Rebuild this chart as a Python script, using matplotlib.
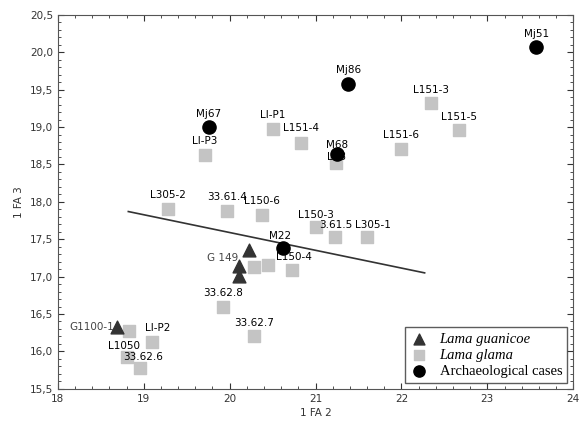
import matplotlib
matplotlib.use('Agg')
import matplotlib.pyplot as plt
from matplotlib.ticker import MultipleLocator, FuncFormatter

# Lama guanicoe
guan_labels = ['G1100-1', 'G 149', '', '']
guan_x = [18.69, 20.23, 20.11, 20.11]
guan_y = [16.33, 17.36, 17.14, 17.01]

# Lama glama
glama_labels = ['L305-2', '33.61.4', 'L150-6', 'LI-P3', 'LI-P1', 'L151-4', 'L68',
                'L151-6', 'L151-3', 'L151-5', 'L150-3', '3.61.5', 'L305-1', 'L150-4',
                '', '', '33.62.8', '33.62.7', '', 'LI-P2', 'L1050', '33.62.6']
glama_x = [19.28, 19.97, 20.38, 19.71, 20.50, 20.83, 21.24,
           22.00, 22.34, 22.67, 21.00, 21.23, 21.60, 20.72,
           20.28, 20.45, 19.92, 20.28, 18.83, 19.10, 18.80, 18.96]
glama_y = [17.91, 17.88, 17.83, 18.63, 18.98, 18.79, 18.52,
           18.71, 19.32, 18.96, 17.67, 17.53, 17.53, 17.09,
           17.13, 17.16, 16.60, 16.20, 16.27, 16.13, 15.93, 15.78]

# Archaeological cases
arch_labels = ['Mj51', 'Mj86', 'Mj67', 'M68', 'M22']
arch_x = [23.57, 21.38, 19.76, 21.25, 20.62]
arch_y = [20.07, 19.58, 19.00, 18.64, 17.38]

# regression line end points
line_x = [18.82, 22.27]
line_y = [17.87, 17.05]

# label offsets in points (dx, dy, ha, va) where the default one does not fit
offsets = {'G1100-1': (-2, 0, 'right', 'center'), 'G 149': (-8, -6, 'right', 'center'),
           '33.61.4': (0, 6, 'center', 'bottom'), 'L150-6': (0, 6, 'center', 'bottom'),
           'L151-4': (0, 7, 'center', 'bottom'), 'L68': (0, 1, 'center', 'bottom'),
           'M68': (0, 3, 'center', 'bottom'), '3.61.5': (0, 5, 'center', 'bottom'),
           'L305-1': (4, 5, 'center', 'bottom'), 'L150-3': (0, 5, 'center', 'bottom'),
           'L150-4': (2, 6, 'center', 'bottom'), 'LI-P2': (4, 6, 'center', 'bottom'),
           'L1050': (-2, 4, 'center', 'bottom'), '33.62.6': (2, 4, 'center', 'bottom'),
           'M22': (-2, 5, 'center', 'bottom')}

fig = plt.figure(figsize=(5.79, 4.24), dpi=100)
ax = fig.add_axes([0.1, 0.083, 0.89, 0.882])

ax.plot(line_x, line_y, color='#333333', lw=1.2, zorder=1)

ax.scatter(guan_x, guan_y, marker='^', s=85, color='#333333', zorder=3,
           label='Lama guanicoe')
ax.scatter(glama_x, glama_y, marker='s', s=80, color='#c4c4c4', zorder=2,
           label='Lama glama')
ax.scatter(arch_x, arch_y, marker='o', s=90, color='black', zorder=4,
           label='Archaeological cases')


def put_labels(labels, xs, ys, color='black'):
    for lab, x, y in zip(labels, xs, ys):
        if not lab:
            continue
        dx, dy, ha, va = offsets.get(lab, (0, 6, 'center', 'bottom'))
        ax.annotate(lab, (x, y), xytext=(dx, dy), textcoords='offset points',
                    ha=ha, va=va, fontsize=7.5, color=color, zorder=5)


put_labels(guan_labels, guan_x, guan_y, color='#444444')
put_labels(glama_labels, glama_x, glama_y)
put_labels(arch_labels, arch_x, arch_y)

ax.set_xlim(18, 24)
ax.set_ylim(15.5, 20.5)
ax.xaxis.set_major_locator(MultipleLocator(1))
ax.xaxis.set_minor_locator(MultipleLocator(0.2))
ax.yaxis.set_major_locator(MultipleLocator(0.5))
ax.yaxis.set_minor_locator(MultipleLocator(0.1))
ax.yaxis.set_major_formatter(FuncFormatter(lambda v, p: f'{v:.1f}'.replace('.', ',')))
ax.tick_params(which='both', direction='in', top=True, right=True,
               labelsize=7.5, colors='#333333')
ax.tick_params(which='major', length=4)
ax.tick_params(which='minor', length=2)
for s in ax.spines.values():
    s.set_color('#555555')

ax.set_xlabel('1 FA 2', fontsize=7.5, color='#333333', labelpad=3)
ax.set_ylabel('1 FA 3', fontsize=7.5, color='#333333')

leg = ax.legend(loc='lower right', frameon=True, fancybox=False,
                edgecolor='#333333', handletextpad=0.8, handlelength=1.2,
                borderpad=0.35, labelspacing=0.2, borderaxespad=0.4,
                markerscale=0.85,
                prop={'family': 'Liberation Serif', 'size': 10.5})
leg.get_frame().set_linewidth(1.0)
for t in leg.get_texts()[:2]:
    t.set_style('italic')

plt.savefig('out.png', dpi=100)
